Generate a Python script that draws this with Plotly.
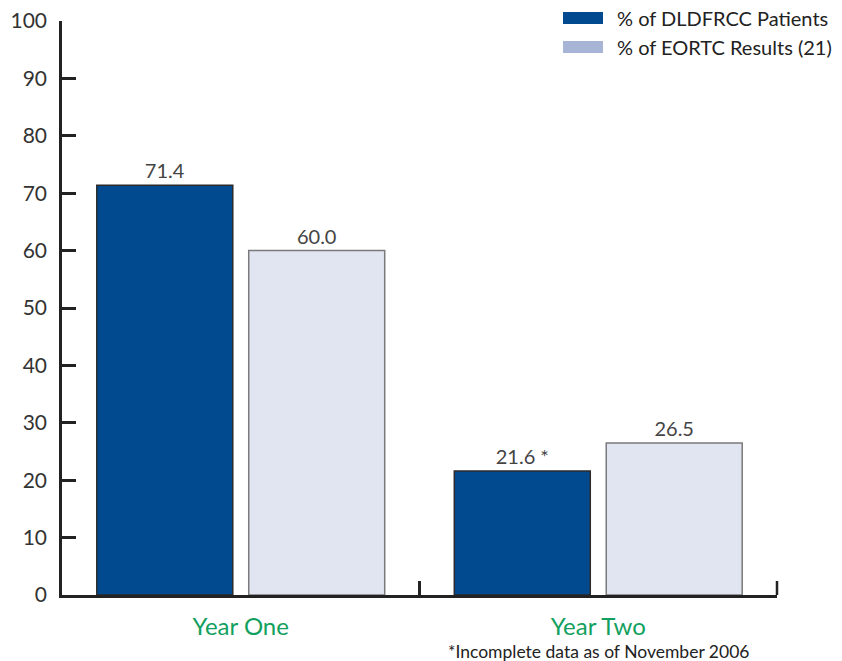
import plotly.graph_objects as go

categories = ["Year One", "Year Two"]
dldfrcc = [71.4, 21.6]
eortc = [60.0, 26.5]
dldfrcc_labels = ["71.4", "21.6 *"]
eortc_labels = ["60.0", "26.5"]
series_names = ["% of DLDFRCC Patients", "% of EORTC Results (21)"]
y_ticks = [0, 10, 20, 30, 40, 50, 60, 70, 80, 90, 100]
footnote = "*Incomplete data as of November 2006"

FONT = "Lato, 'Open Sans', sans-serif"
DARK = "#014A8F"
LIGHT_FILL = "#E1E5F1"
LIGHT_LEG = "#A8B4D6"
GREEN = "#12A05E"

fig = go.Figure()
fig.add_trace(go.Bar(
    x=categories, y=dldfrcc, name=series_names[0], showlegend=False,
    marker=dict(color=DARK, line=dict(color="#2a2a2a", width=1.5)),
    text=dldfrcc_labels, textposition="outside", cliponaxis=False,
    textfont=dict(family=FONT, size=20, color="#444444"),
))
fig.add_trace(go.Bar(
    x=categories, y=eortc, name=series_names[1], showlegend=False,
    marker=dict(color=LIGHT_FILL, line=dict(color="#7a7a7a", width=1.5)),
    text=eortc_labels, textposition="outside", cliponaxis=False,
    textfont=dict(family=FONT, size=20, color="#444444"),
))

L, R, T, B = 62, 65, 21, 66
W, H = 842, 661
pw, ph = W - L - R, H - T - B

def px(xp):
    return (xp - L) / pw

def py(yp):
    return (H - B - yp) / ph

shapes = []
annotations = []
for i, (name, col) in enumerate(zip(series_names, [DARK, LIGHT_LEG])):
    y0 = 12 + i * 29
    shapes.append(dict(type="rect", xref="paper", yref="paper",
                       x0=px(563), x1=px(603), y0=py(y0 + 12), y1=py(y0),
                       fillcolor=col, line=dict(width=0)))
    annotations.append(dict(xref="paper", yref="paper", x=px(615), y=py(y0 + 6),
                            text=name, showarrow=False, xanchor="left", yanchor="middle",
                            font=dict(family=FONT, size=20, color="#222222")))

# closing boundary tick at the right end of the category axis
shapes.append(dict(type="line", xref="paper", yref="paper",
                   x0=1, x1=1, y0=0, y1=14 / ph,
                   line=dict(color="#222222", width=2.5)))

annotations.append(dict(xref="paper", yref="paper", x=px(598), y=py(651),
                        text=footnote, showarrow=False, xanchor="center", yanchor="middle",
                        font=dict(family=FONT, size=17.5, color="#222222")))

fig.update_layout(
    width=W, height=H,
    margin=dict(l=L, r=R, t=T, b=B, pad=0, autoexpand=False),
    paper_bgcolor="white", plot_bgcolor="white",
    barmode="group", bargap=0.15, bargroupgap=0.105,
    showlegend=False,
    shapes=shapes, annotations=annotations,
    xaxis=dict(
        type="category", showline=True, linecolor="#222222", linewidth=2.5,
        ticks="inside", tickson="boundaries", ticklen=14, tickwidth=2.5, tickcolor="#222222",
        tickfont=dict(family=FONT, size=24, color=GREEN), ticklabelstandoff=8,
        showgrid=False, zeroline=False, fixedrange=True, automargin=False,
    ),
    yaxis=dict(
        range=[0, 100], tickvals=y_ticks, showline=True, linecolor="#222222", linewidth=2.5,
        ticks="inside", ticklen=14, tickwidth=2.5, tickcolor="#222222",
        tickfont=dict(family=FONT, size=21, color="#333333"),
        showgrid=False, zeroline=False, ticklabelstandoff=8, automargin=False,
    ),
)

fig.write_html("out.html")
